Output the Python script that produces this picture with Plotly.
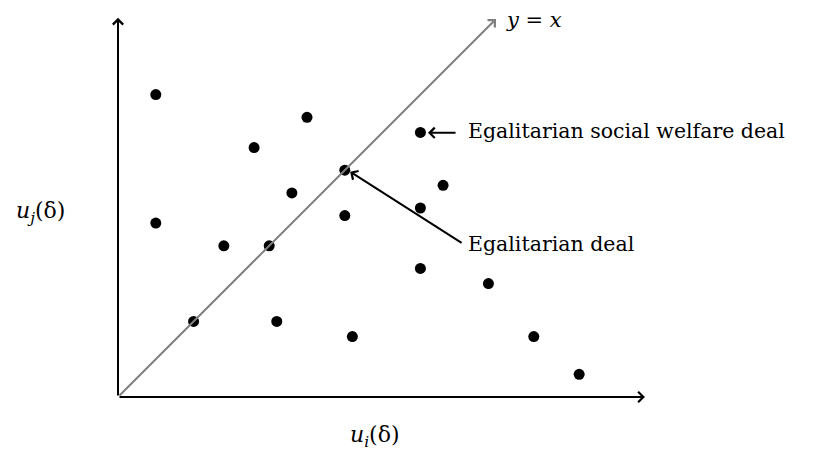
import plotly.graph_objects as go

# Deals (utility of agent i, utility of agent j)
u_i = [1, 5, 3.6, 8, 6, 4.6, 8.6, 1, 6, 8, 2.8, 4, 8, 9.8, 2, 4.2, 6.2, 11, 12.2]
u_j = [8, 7.4, 6.6, 7, 6, 5.4, 5.6, 4.6, 4.8, 5, 4, 4, 3.4, 3, 2, 2, 1.6, 1.6, 0.6]

# Highlighted deals
egal_sw = (8, 7)
egal = (6, 6)

x_axis_end = 13.94
y_axis_end = 10.03
diag_end = 10.0

SCALE = 37.8
W, H = 819, 453
PAGE_MARGIN = 8
OX, OY = 118 - PAGE_MARGIN, 397 - PAGE_MARGIN

FONT = "DejaVu Serif"

fig = go.Figure()

fig.add_trace(go.Scatter(
    x=u_i, y=u_j, mode="markers",
    marker=dict(size=11, color="black"),
    showlegend=False, hoverinfo="skip"))

ann = []
def arrow(x0, y0, x1, y1, color="black", width=2):
    ann.append(dict(x=x1, y=y1, ax=x0, ay=y0, xref="x", yref="y",
                    axref="x", ayref="y", text="", showarrow=True,
                    arrowhead=4, arrowsize=1, arrowwidth=width,
                    arrowcolor=color, standoff=0, startstandoff=0))

# axes
arrow(0, 0, x_axis_end, 0)
arrow(0, 0, 0, y_axis_end)
# y = x line
arrow(0, 0, diag_end, diag_end, color="#808080")
# pointers
arrow(8.97, egal_sw[1] - 0.01, egal_sw[0] + 0.2, egal_sw[1] - 0.01)
arrow(9.13, 4.05, egal[0] + 0.14, egal[1] - 0.04)

def label(x, y, text, xanchor="left", size=20):
    ann.append(dict(x=x, y=y, xref="x", yref="y", text=text, showarrow=False,
                    xanchor=xanchor, yanchor="middle",
                    font=dict(family=FONT, size=size, color="black")))

label(9.2, 7.03, "Egalitarian social welfare deal", size=20.5)
label(9.2, 4.05, "Egalitarian deal", size=20.5)
label(10.2, 9.98, "<i>y</i> = <i>x</i>", size=21)
label(6.8, -1.05, "<i>u<sub>i</sub></i>(δ)", xanchor="center", size=22)
label(-2.05, 4.88, "<i>u<sub>j</sub></i>(δ)", xanchor="center", size=22)

fig.update_layout(
    width=W, height=H,
    margin=dict(l=0, r=0, t=0, b=0),
    paper_bgcolor="white", plot_bgcolor="white",
    xaxis=dict(range=[-OX / SCALE, (W - OX) / SCALE], visible=False, fixedrange=True),
    yaxis=dict(range=[-(H - OY) / SCALE, OY / SCALE], visible=False, fixedrange=True),
    annotations=ann,
)

fig.write_html("out.html")
